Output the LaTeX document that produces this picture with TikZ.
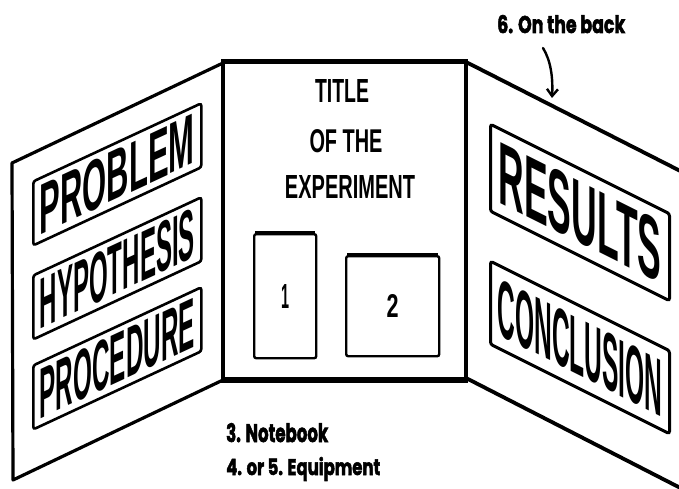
\documentclass[tikz,border=0pt]{standalone}
\usepackage{fontspec}
\usepackage{graphicx}
\setmainfont{Liberation Sans}
\newfontfamily\boxfont{Liberation Sans}
\newfontfamily\notefont{Poppins}[BoldFeatures={FakeBold=2.5}]
\usetikzlibrary{arrows.meta}
\begin{document}
\begin{tikzpicture}[x=1pt,y=1pt,
  panel/.style={line width=3.2pt, line join=round, line cap=round},
  signbox/.style={draw, line width=2.6pt, rounded corners=2.5pt, inner sep=0pt, transform shape, anchor=west},
  photobox/.style={draw, line width=2.4pt, rounded corners=2pt, inner sep=0pt, anchor=north west},
  titletext/.style={anchor=base, inner sep=0pt},
  note/.style={anchor=base west, inner sep=0pt}]
\useasboundingbox (0,0) rectangle (679,488);
\clip (0,0) rectangle (679,488);

% left panel
\draw[panel] (223,425) -- (12,325) -- (13,8) -- (223,108);
% center panel
\draw[line width=3.5pt] (223,108) -- (223,426);
\draw[line width=5pt] (221,426) -- (468,426);
\draw[line width=5.5pt] (221,108) -- (468,108);
\draw[line width=3.5pt] (466,426) -- (466,110);
% right panel
\draw[panel, line width=3.8pt] (466,426) -- (700,307);
\draw[panel, line width=3.8pt] (466,110) -- (700,-10);

% left signs
\begin{scope}[shift={(32,274)}, yslant=0.465]
  \node[signbox, minimum width=168pt, minimum height=64pt] (problem) at (0,0)
    {\resizebox{155pt}{50pt}{\boxfont\bfseries PROBLEM}};
\end{scope}
\begin{scope}[shift={(32,180)}, yslant=0.465]
  \node[signbox, minimum width=168pt, minimum height=64pt] (hypothesis) at (0,0)
    {\resizebox{155pt}{50pt}{\boxfont\bfseries HYPOTHESIS}};
\end{scope}
\begin{scope}[shift={(32,90)}, yslant=0.465]
  \node[signbox, minimum width=168pt, minimum height=64pt] (procedure) at (0,0)
    {\resizebox{155pt}{50pt}{\boxfont\bfseries PROCEDURE}};
\end{scope}

% right signs
\begin{scope}[shift={(489,321)}, yslant=-0.5]
  \node[signbox, line width=3pt, minimum width=179pt, minimum height=87pt] (results) at (0,0)
    {\resizebox{163pt}{62pt}{\boxfont\bfseries RESULTS}};
\end{scope}
\begin{scope}[shift={(489,186)}, yslant=-0.5]
  \node[signbox, line width=3pt, minimum width=179pt, minimum height=83pt] (conclusion) at (0,0)
    {\resizebox{165pt}{57pt}{\boxfont\bfseries CONCLUSION}};
\end{scope}

% title
\node[titletext] (t1) at (342,385) {\resizebox{54pt}{23pt}{\bfseries TITLE}};
\node[titletext] (t2) at (346,336) {\resizebox{73pt}{23pt}{\bfseries OF THE}};
\node[titletext] (t3) at (350,290) {\resizebox{130pt}{23pt}{\bfseries EXPERIMENT}};

% photo boxes
\node[photobox, minimum width=62pt, minimum height=124pt] (one) at (253,255)
  {\resizebox{8pt}{24pt}{\bfseries 1}};
\node[photobox, minimum width=93pt, minimum height=100pt] (two) at (345,233)
  {\resizebox{12pt}{23pt}{\bfseries 2}};
\draw[line width=4pt] ([xshift=2pt]one.north west) -- ([xshift=-2pt]one.north east);
\draw[line width=4pt] ([xshift=2pt]two.north west) -- ([xshift=-2pt]two.north east);

% notes
\node[note] (nb) at (226,46) {\resizebox{102pt}{19pt}{\notefont\bfseries 3. Notebook}};
\node[note] (eq) at (226,13) {\resizebox{154pt}{18pt}{\notefont\bfseries 4. or 5. Equipment}};
\node[note] (back) at (497,455) {\resizebox{128pt}{18pt}{\notefont\bfseries 6. On the back}};

% arrow
\coordinate (a0) at (543,440);
\coordinate (a1) at (552,390);
\draw[line width=2.4pt, line cap=round, -{Straight Barb[length=7pt,width=11pt]}]
  (a0) .. controls (551,427) and (553,410) .. (a1);
\end{tikzpicture}
\end{document}
